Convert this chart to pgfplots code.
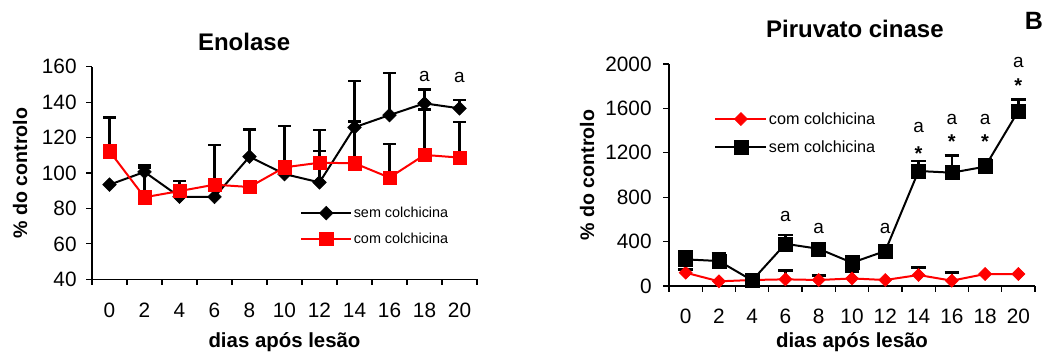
\documentclass[border=0pt]{standalone}
\usepackage{fontspec}
\setmainfont{Liberation Sans}
\usepackage{pgfplots}
\pgfplotsset{compat=1.18}
\definecolor{myred}{RGB}{255,0,0}

\pgfplotstableread{
x y
0 93.4
2 100.6
4 86.6
6 86.5
8 109.2
10 99.4
12 94.7
14 125.8
16 132.7
18 139.3
20 136.5
}\enoSem
\pgfplotstableread{
x y e
2 100.6 3.9
4 86.6 9.0
8 109.2 15.3
12 94.7 17.7
14 125.8 26.1
16 132.7 23.9
18 139.3 7.9
20 136.5 4.7
}\enoSemErr
\pgfplotstableread{
x y
0 112.3
2 86.3
4 89.8
6 93.4
8 92.1
10 103.2
12 105.8
14 105.5
16 97.4
18 110.2
20 108.7
}\enoCom
\pgfplotstableread{
x y e
0 112.3 19.1
2 86.3 16.9
6 93.4 22.4
10 103.2 23.3
12 105.8 18.5
14 105.5 23.5
16 97.4 18.8
18 110.2 25.7
20 108.7 20.1
}\enoComErr

\pgfplotstableread{
x y
0 120
2 42
4 54
6 60
8 54
10 68
12 54
14 99
16 48
18 108
20 108
}\pkCom
\pgfplotstableread{
x y e
0 120 30
6 60 78
8 54 40
10 68 62
14 99 69
16 48 75
}\pkComErr
\pgfplotstableread{
x y
0 240
2 225
4 50
6 380
8 335
10 210
12 315
14 1036
16 1021
18 1075
20 1577
}\pkSem
\pgfplotstableread{
x y e
0 240 78
2 225 67
6 380 80
12 315 50
14 1036 90
16 1021 153
18 1075 69
20 1577 105
}\pkSemErr

\pgfplotsset{
  base/.style={
    scale only axis,
    axis lines=left,
    axis line style={-, black, line width=0.6bp},
    xmin=-1, xmax=21,
    xtick={0,2,...,20},
    minor xtick={-1,1,...,21},
    tick align=outside,
    major tick length=3bp,
    minor tick length=2.8bp,
    major x tick style={draw=none},
    every tick/.append style={black, line width=0.6bp},
    /pgf/number format/assume math mode=true,
    /pgf/number format/1000 sep={},
    scaled y ticks=false,
    ticklabel style={font=\fontsize{10.4bp}{12bp}\selectfont},
    yticklabel style={anchor=east, inner sep=0pt, xshift=-4.5bp},
    xticklabel style={anchor=center, inner sep=0pt},
    clip=false,
    legend cell align=left,
  },
  errplot/.style={draw=none, mark=none, forget plot,
    error bars/.cd, y dir=plus, y explicit,
    error bar style={draw=black, solid, line width=1.2bp},
    error mark options={rotate=90, draw=black, solid, mark size=#1, line width=1.2bp}},
}

\begin{document}
\begin{tikzpicture}
\useasboundingbox (0,0) rectangle (525.5bp,180.5bp);

% ---------------- Enolase ----------------
\begin{axis}[base,
  at={(46bp,40.85bp)}, anchor=south west,
  width=192.5bp, height=106.3bp,
  ymin=40, ymax=160, ytick={40,60,...,160},
  title={Enolase},
  title style={at={([yshift=6.4bp]axis description cs:0.395,1)}, anchor=center, font=\bfseries\fontsize{12bp}{14bp}\selectfont},
  ylabel={\% do controlo},
  ylabel style={at={([xshift=-36bp]axis description cs:0,0.5)}, anchor=center, font=\bfseries\fontsize{9.8bp}{12bp}\selectfont},
  xlabel={dias após lesão},
  xlabel style={at={([yshift=-31.5bp]axis description cs:0.5,0)}, anchor=center, font=\bfseries\fontsize{10.2bp}{12bp}\selectfont},
  xticklabel style={yshift=-12.5bp},
  legend style={at={(axis description cs:0.54,0.25)}, anchor=west, draw=none, fill=none, inner sep=0pt,
    font=\fontsize{7.2bp}{8bp}\selectfont, row sep=4bp,
    nodes={inner sep=0.75bp, text height=6bp, text depth=1.5bp}},
  legend image code/.code={\draw[mark repeat=2,mark phase=2,#1] plot coordinates {(0bp,0bp) (12.5bp,0bp) (25bp,0bp)};},
]
\addplot[errplot=3.2bp] table[x=x, y=y, y error=e] {\enoSemErr};
\addplot[errplot=3.2bp] table[x=x, y=y, y error=e] {\enoComErr};
\addplot[black, line width=1bp, mark=square*, mark size=2.4bp,
  mark options={solid, rotate=45, fill=black, draw=black, line width=0.3bp}] table[x=x, y=y] {\enoSem};
\addlegendentry{sem colchicina}
\addplot[myred, line width=1bp, mark=square*, mark size=3.3bp,
  mark options={solid, fill=myred, draw=myred, line width=0.3bp}] table[x=x, y=y] {\enoCom};
\addlegendentry{com colchicina}
\node[font=\fontsize{9.5bp}{11bp}\selectfont] at (axis cs:18,154.7) {a};
\node[font=\fontsize{9.5bp}{11bp}\selectfont] at (axis cs:20,154.0) {a};
\end{axis}

% ---------------- Piruvato cinase ----------------
\begin{axis}[base,
  at={(334.5bp,37.5bp)}, anchor=south west,
  width=183bp, height=111bp,
  ymin=0, ymax=2000, ytick={0,400,...,2000},
  title={Piruvato cinase},
  title style={at={([yshift=11.5bp]axis description cs:0.508,1)}, anchor=center, font=\bfseries\fontsize{12bp}{14bp}\selectfont},
  ylabel={\% do controlo},
  ylabel style={at={([xshift=-41bp]axis description cs:0,0.5)}, anchor=center, font=\bfseries\fontsize{9.8bp}{12bp}\selectfont},
  xlabel={dias após lesão},
  xlabel style={at={([yshift=-28bp]axis description cs:0.5,0)}, anchor=center, font=\bfseries\fontsize{10.2bp}{12bp}\selectfont},
  xticklabel style={yshift=-12bp},
  yticklabel style={xshift=-1bp},
  legend style={at={(axis description cs:0.123,0.689)}, anchor=west, draw=none, fill=none, inner sep=0pt,
    font=\fontsize{8.1bp}{9bp}\selectfont, row sep=4.5bp,
    nodes={inner sep=0.75bp, text height=6.5bp, text depth=1.5bp}},
  legend image code/.code={\draw[mark repeat=2,mark phase=2,#1] plot coordinates {(0bp,0bp) (12.75bp,0bp) (25.5bp,0bp)};},
]
\addplot[errplot=3.6bp] table[x=x, y=y, y error=e] {\pkComErr};
\addplot[myred, line width=1bp, mark=square*, mark size=2.3bp,
  mark options={solid, rotate=45, fill=myred, draw=myred, line width=0.3bp}] table[x=x, y=y] {\pkCom};
\addlegendentry{com colchicina}
\addplot[errplot=3.6bp] table[x=x, y=y, y error=e] {\pkSemErr};
\addplot[black, line width=1bp, mark=square*, mark size=3.5bp,
  mark options={solid, fill=black, draw=black, line width=0.3bp}] table[x=x, y=y] {\pkSem};
\addlegendentry{sem colchicina}
\node[font=\fontsize{9.5bp}{11bp}\selectfont] at (axis cs:6,630) {a};
\node[font=\fontsize{9.5bp}{11bp}\selectfont] at (axis cs:8,519) {a};
\node[font=\fontsize{9.5bp}{11bp}\selectfont] at (axis cs:12,519) {a};
\node[font=\fontsize{9.5bp}{11bp}\selectfont] at (axis cs:14,1426) {a};
\node[font=\fontsize{9.5bp}{11bp}\selectfont] at (axis cs:16,1504) {a};
\node[font=\fontsize{9.5bp}{11bp}\selectfont] at (axis cs:18,1504) {a};
\node[font=\fontsize{9.5bp}{11bp}\selectfont] at (axis cs:20,2012) {a};
\node[font=\bfseries\fontsize{10bp}{11bp}\selectfont] at (axis cs:14,1195) {*};
\node[font=\bfseries\fontsize{10bp}{11bp}\selectfont] at (axis cs:16,1300) {*};
\node[font=\bfseries\fontsize{10bp}{11bp}\selectfont] at (axis cs:18,1300) {*};
\node[font=\bfseries\fontsize{10bp}{11bp}\selectfont] at (axis cs:20,1802) {*};
\end{axis}

\node[font=\bfseries\fontsize{12.5bp}{14bp}\selectfont] at (517bp,170bp) {B};
\end{tikzpicture}
\end{document}
